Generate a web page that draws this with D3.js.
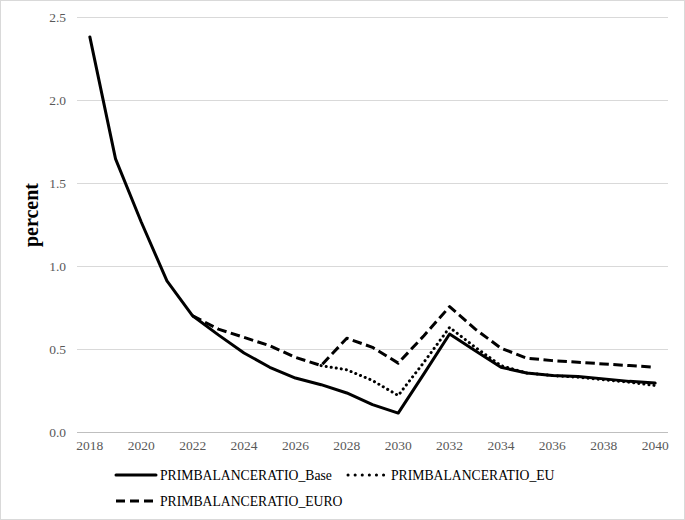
<!DOCTYPE html>
<html>
<head>
<meta charset="utf-8">
<script src="https://cdn.jsdelivr.net/npm/d3@7"></script>
<style>
  body { margin: 0; background: #fff; }
  svg { display: block; font-family: "Liberation Serif", "Times New Roman", serif; }
</style>
</head>
<body>
<svg id="chart" width="685" height="520"></svg>
<script>
var years = d3.range(2018, 2041);
var yTicks = [0, 0.5, 1.0, 1.5, 2.0, 2.5];

var base = [2.38, 1.645, 1.265, 0.91, 0.70, 0.585, 0.476, 0.39, 0.325, 0.285, 0.235, 0.165, 0.114,
            0.35, 0.59, 0.49, 0.39, 0.355, 0.34, 0.335, 0.32, 0.305, 0.295];
// EU only departs from the others from 2027 on
var eu   = [null, null, null, null, null, null, null, null, null, 0.40, 0.375, 0.31, 0.22,
            0.42, 0.63, 0.51, 0.40, 0.355, 0.34, 0.33, 0.315, 0.30, 0.28];
var euro = [null, null, null, null, 0.70, 0.62, 0.57, 0.52, 0.45, 0.40, 0.565, 0.51, 0.415,
            0.58, 0.755, 0.62, 0.505, 0.445, 0.43, 0.42, 0.41, 0.40, 0.39];

var seriesNames = ["PRIMBALANCERATIO_Base", "PRIMBALANCERATIO_EU", "PRIMBALANCERATIO_EURO"];

var svg = d3.select("#chart");
var fs = 13.5;

// outer border
svg.append("rect").attr("x", 0.5).attr("y", 0.5).attr("width", 684).attr("height", 519)
   .attr("fill", "#fff").attr("stroke", "#d9d9d9");

var x = d3.scaleBand().domain(years).range([77, 668]);
var y = d3.scaleLinear().domain([0, 2.5]).range([432, 17]);

// gridlines
svg.append("g").selectAll("line").data(yTicks).enter().append("line")
   .attr("x1", 77).attr("x2", 668)
   .attr("y1", function(d){ return Math.round(y(d)) + 0.5; })
   .attr("y2", function(d){ return Math.round(y(d)) + 0.5; })
   .attr("stroke", function(d){ return d === 0 ? "#bfbfbf" : "#d9d9d9"; })
   .attr("stroke-width", 1);

// y tick labels
svg.append("g").selectAll("text").data(yTicks).enter().append("text")
   .attr("x", 66).attr("y", function(d){ return y(d) + 4.5; })
   .attr("text-anchor", "end").attr("font-size", fs).attr("fill", "#595959")
   .text(function(d){ return d.toFixed(1); });

// x tick labels, every second year
svg.append("g").selectAll("text").data(years.filter(function(d){ return d % 2 === 0; }))
   .enter().append("text")
   .attr("x", function(d){ return x(d) + x.bandwidth() / 2; })
   .attr("y", 450).attr("text-anchor", "middle").attr("font-size", fs).attr("fill", "#595959")
   .text(function(d){ return d; });

// axis title
svg.append("text").attr("transform", "translate(38,215) rotate(-90)")
   .attr("text-anchor", "middle").attr("font-size", 20).attr("font-weight", "bold")
   .text("percent");

var styles = [
  {data: base, dash: null, legendDash: null, cap: "round"},
  {data: eu, dash: "0.1 5", legendDash: "0.1 7", cap: "round"},
  {data: euro, dash: "9.5 4.5", legendDash: "9 5", cap: "butt"}
];

var line = d3.line()
   .defined(function(d){ return d !== null; })
   .x(function(d, i){ return x(years[i]) + x.bandwidth() / 2; })
   .y(function(d){ return y(d); });

// draw EURO, EU then base on top
[2, 1, 0].forEach(function(k){
  var s = styles[k];
  svg.append("path").datum(s.data)
     .attr("d", line).attr("fill", "none").attr("stroke", "#000")
     .attr("stroke-width", 3).attr("stroke-linejoin", "round")
     .attr("stroke-linecap", s.cap)
     .attr("stroke-dasharray", s.dash);
});

// legend
var legendPos = [{x: 116, y: 475}, {x: 348, y: 475}, {x: 116, y: 501}];
var legend = svg.append("g");
legendPos.forEach(function(p, k){
  legend.append("line").attr("x1", p.x).attr("x2", p.x + (k === 1 ? 36 : 40)).attr("y1", p.y).attr("y2", p.y)
     .attr("stroke", "#000").attr("stroke-width", 3)
     .attr("stroke-linecap", styles[k].cap).attr("stroke-dasharray", styles[k].legendDash);
  legend.append("text").attr("x", p.x + (k === 1 ? 43 : 44)).attr("y", p.y + 4.5)
     .attr("font-size", 13.7).attr("fill", "#000").text(seriesNames[k]);
});
</script>
</body>
</html>
